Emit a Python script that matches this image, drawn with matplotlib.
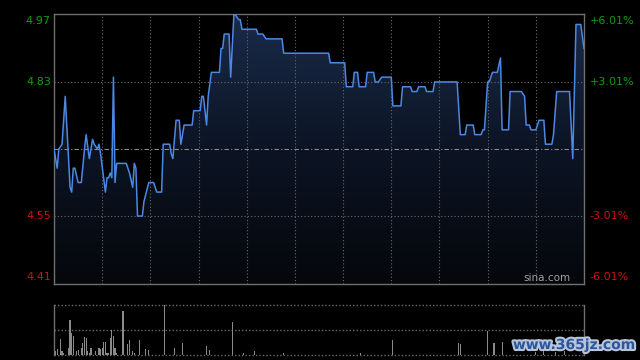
import numpy as np
import matplotlib
matplotlib.use("Agg")
import matplotlib.pyplot as plt
from matplotlib.colors import LinearSegmentedColormap
from matplotlib.transforms import blended_transform_factory
import matplotlib.patheffects as pe

# ---- data ----
prev_close = 4.69
minutes = [0, 2, 3, 5, 7, 10, 11, 12, 13, 15, 17, 19, 20, 22, 24, 25, 27, 28, 29, 32,
           33, 34, 35, 36, 37, 38, 39, 45, 47, 49, 50, 51, 52, 55, 56, 59, 62, 64, 67, 68,
           72, 73, 74, 76, 78, 79, 81, 86, 87, 91, 92, 93, 95, 96, 98, 103, 104, 105, 106, 109,
           110, 112, 113, 115, 116, 117, 126, 127, 130, 132, 142, 143, 171, 172, 181, 182, 186, 187, 189, 190,
           194, 195, 199, 200, 202, 204, 210, 211, 216, 217, 222, 223, 226, 227, 231, 232, 236, 237, 251, 253,
           256, 257, 261, 262, 266, 267, 268, 270, 271, 273, 276, 278, 279, 283, 284, 291, 293, 294, 296, 297,
           300, 302, 305, 306, 310, 311, 313, 321, 323, 325, 328, 330]
prices = [4.69, 4.65, 4.69, 4.70, 4.80, 4.61, 4.60, 4.65, 4.65, 4.62, 4.62, 4.69, 4.72, 4.67, 4.71, 4.70, 4.69, 4.70, 4.68, 4.60,
          4.63, 4.63, 4.64, 4.63, 4.84, 4.62, 4.66, 4.66, 4.64, 4.61, 4.66, 4.65, 4.55, 4.55, 4.58, 4.62, 4.62, 4.60, 4.60, 4.70,
          4.70, 4.68, 4.67, 4.75, 4.75, 4.70, 4.74, 4.74, 4.77, 4.77, 4.80, 4.80, 4.74, 4.80, 4.85, 4.85, 4.90, 4.90, 4.93, 4.93,
          4.84, 4.97, 4.97, 4.96, 4.96, 4.94, 4.94, 4.93, 4.93, 4.92, 4.92, 4.89, 4.89, 4.87, 4.87, 4.82, 4.82, 4.85, 4.85, 4.82,
          4.82, 4.85, 4.85, 4.83, 4.83, 4.84, 4.84, 4.78, 4.78, 4.82, 4.82, 4.81, 4.81, 4.82, 4.82, 4.81, 4.81, 4.83, 4.83, 4.72,
          4.72, 4.74, 4.74, 4.72, 4.72, 4.73, 4.73, 4.83, 4.83, 4.85, 4.85, 4.88, 4.73, 4.73, 4.81, 4.81, 4.80, 4.74, 4.74, 4.73,
          4.73, 4.75, 4.75, 4.70, 4.70, 4.72, 4.81, 4.81, 4.67, 4.95, 4.95, 4.90]

vol_minutes = [1, 2, 4, 5, 6, 9, 10, 11, 12, 14, 15, 17, 18, 19, 20, 21, 22, 23, 26, 28,
               29, 30, 31, 32, 33, 34, 35, 36, 37, 38, 39, 43, 46, 47, 49, 50, 53, 57, 59, 69,
               75, 80, 95, 97, 111, 118, 125, 143, 191, 211, 252, 253, 270, 274, 279, 300, 305, 312, 318]
vol_values = [7, 11, 31, 7, 4, 13, 69, 44, 37, 7, 9, 13, 24, 35, 33, 7, 4, 13, 8, 13,
              11, 14, 25, 25, 3, 4, 33, 49, 37, 13, 3, 87, 21, 29, 7, 3, 29, 11, 9, 100,
              13, 24, 17, 9, 65, 3, 7, 3, 3, 29, 24, 21, 47, 24, 25, 6, 8, 5, 7]

left_labels = ["4.97", "4.83", "4.55", "4.41"]
left_values = [4.97, 4.83, 4.55, 4.41]
right_labels = ["+6.01%", "+3.01%", "-3.01%", "-6.01%"]

# ---- style ----
BG = "black"
LINE = "#4b88e6"
GRID = "#6a6a6a"
SPINE = "#707070"
GREEN = "#169a16"
RED = "#cc1111"

ymin = prev_close * (1 - 0.0601)
ymax = prev_close * (1 + 0.0601)

fig = plt.figure(figsize=(6.4, 3.6), dpi=100, facecolor=BG)
ax = fig.add_axes([54/640, 1-284/360, 530/640, 270/360], facecolor=BG)
axv = fig.add_axes([54/640, 1-354.7/360, 530/640, 50/360], facecolor=BG)

ax.set_xlim(0, 330)
ax.set_ylim(ymin, ymax)

# gradient fill under line
x = np.array(minutes, dtype=float)
y = np.array(prices)
cmap = LinearSegmentedColormap.from_list("g", ["#05070b", "#0c1424", "#1a2b4a"])
grad = np.linspace(0, 1, 256).reshape(-1, 1)
im = ax.imshow(grad, extent=[0, 330, ymin, ymax], origin="lower", aspect="auto",
               cmap=cmap, zorder=1)
poly = ax.fill_between(x, y, ymin, color="none", lw=0)
clip = poly.get_paths()[0]
im.set_clip_path(clip, transform=ax.transData)

# grid lines
for k in range(1, 11):
    ax.axvline(k * 30, color=GRID, lw=0.8, ls=(0, (1, 2)), zorder=2)
for v in [4.83, 4.55]:
    ax.axhline(v, color=GRID, lw=0.8, ls=(0, (1, 2)), zorder=2)
ax.axhline(prev_close, color="#8a8a8a", lw=0.8, ls=(0, (4, 2, 1, 2)), zorder=2)

ax.plot(x, y, color=LINE, lw=1.1, zorder=3)

for s in ax.spines.values():
    s.set_color(SPINE)
    s.set_linewidth(1)
ax.set_xticks([])
ax.set_yticks([])

tr = blended_transform_factory(ax.transAxes, ax.transData)
vas = ["top", "center", "center", "bottom"]
offs = [-0.002, 0, 0, 0.002]
for lab, val, va, o in zip(left_labels, left_values, vas, offs):
    col = GREEN if val > prev_close else RED
    ax.text(-0.006, val + o, lab, transform=tr, ha="right", va=va, color=col, fontsize=8)
for lab, val, va, o in zip(right_labels, left_values, vas, offs):
    col = GREEN if lab.startswith("+") else RED
    ax.text(1.011, val + o, lab, transform=tr, ha="left", va=va, color=col, fontsize=8)

ax.text(0.975, 0.005, "sina.com", transform=ax.transAxes, ha="right", va="bottom",
        color="#a0a0a0", fontsize=7.5, zorder=5)

# volume panel
axv.set_xlim(0, 330)
axv.set_ylim(0, 100)
axv.bar(vol_minutes, vol_values, width=0.7, color="#8a8a8a", zorder=3)
for v in [100, 50, 0]:
    axv.axhline(v, color=GRID, lw=1.0, ls=(0, (1, 1.5)), zorder=2, clip_on=False)
for side in ["top", "bottom"]:
    axv.spines[side].set_visible(False)
for side in ["left", "right"]:
    axv.spines[side].set_color(SPINE)
    axv.spines[side].set_linewidth(1)
axv.set_xticks([])
axv.set_yticks([])

fig.text(574/640, 1-345/360, "www.365jz.com", ha="center", va="center", color="#2a55a0",
         fontsize=10, fontweight="bold", family="DejaVu Sans",
         path_effects=[pe.withStroke(linewidth=3, foreground="#b8c4d8")])

fig.savefig("out.png", dpi=100, facecolor=BG)
